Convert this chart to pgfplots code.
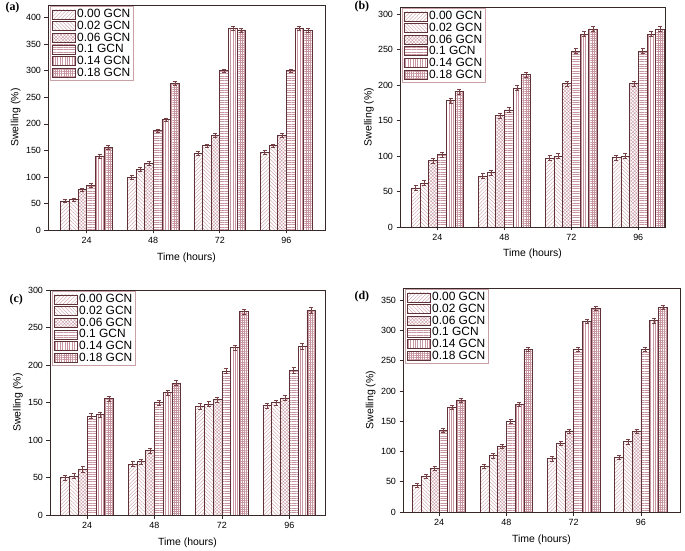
\documentclass[border=0pt]{standalone}
\usepackage{fontspec}
\setmainfont{Liberation Sans}
\newfontfamily\panelfont{Liberation Serif}
\usepackage{pgfplots}
\usepackage{pgfplotstable}
\pgfplotsset{compat=1.18}
\usetikzlibrary{patterns,patterns.meta}

\definecolor{pat}{RGB}{200,150,160}
\definecolor{barline}{RGB}{95,50,55}
\definecolor{axc}{RGB}{55,40,40}
\definecolor{legc}{RGB}{200,160,165}
\definecolor{errc}{RGB}{120,65,70}

\tikzset{
 s0/.style={draw=barline, line width=0.6bp, pattern={Lines[angle=45,distance=2.6bp,line width=0.35bp]}, pattern color=pat},
 s1/.style={draw=barline, line width=0.6bp, pattern={Lines[angle=-45,distance=2.6bp,line width=0.35bp]}, pattern color=pat},
 s2/.style={draw=barline, line width=0.6bp, pattern={Hatch[angle=45,distance=2.4bp,line width=0.35bp]}, pattern color=pat},
 s3/.style={draw=barline, line width=0.6bp, pattern={Lines[angle=0,distance=2.4bp,line width=0.35bp]}, pattern color=pat},
 s4/.style={draw=barline, line width=0.6bp, pattern={Lines[angle=90,distance=2.4bp,line width=0.35bp]}, pattern color=pat},
 s5/.style={draw=barline, line width=0.6bp, pattern={Hatch[angle=0,distance=2.2bp,line width=0.35bp]}, pattern color=pat},
}

\pgfplotsset{
 panel/.style={
  scale only axis,
  ybar,
  bar width=0.13,
  ymin=0,
  xtick={1,2,3,4},
  xticklabels={24,48,72,96},
  tick align=outside,
  xtick pos=left, ytick pos=left,
  major tick length=3.5bp,
  axis line style={draw=axc, line width=0.9bp},
  every tick/.style={draw=axc, line width=0.7bp},
  /pgf/number format/assume math mode=true,
  tick label style={font=\fontsize{9}{10}\selectfont, text=black},
  label style={font=\fontsize{10.5}{12}\selectfont},
  xlabel={Time (hours)},
  ylabel={Swelling (\%)},
  xlabel style={at={(axis description cs:0.5,-0.122)}, anchor=center},
  ylabel style={at={(axis description cs:-0.117,0.5)}, anchor=center},
  error bars/y dir=both,
  error bars/y fixed=3.5,
  error bars/error bar style={draw=errc, line width=0.5bp},
  error bars/error mark options={rotate=90, mark size=2bp, draw=errc, line width=0.5bp},
  legend entries={0.00 GCN,0.02 GCN,0.06 GCN,0.1 GCN,0.14 GCN,0.18 GCN},
  legend cell align=left,
  legend image code/.code={\draw[##1] (0bp,-4.5bp) rectangle (23bp,4.5bp);},
  legend style={at={(axis description cs:0.008,0.995)}, anchor=north west,
   draw=legc, line width=0.7bp, font=\fontsize{12}{13}\selectfont,
   inner sep=1.2bp, row sep=-1.8bp, nodes={inner sep=1.8bp}},
 },
}

\newcommand\plotall[1]{%
 \addplot[s0, bar shift=-0.325] table[x=x,y=s0]{#1};
 \addplot[s1, bar shift=-0.195] table[x=x,y=s1]{#1};
 \addplot[s2, bar shift=-0.065] table[x=x,y=s2]{#1};
 \addplot[s3, bar shift=0.065] table[x=x,y=s3]{#1};
 \addplot[s4, bar shift=0.195] table[x=x,y=s4]{#1};
 \addplot[s5, bar shift=0.325] table[x=x,y=s5]{#1};
}

\pgfplotstableread{
x s0 s1 s2 s3 s4 s5
1 55 57 76 84 139 156
2 99 114 126 187 208 276
3 145 159 179 300 380 377
4 146 159 179 300 380 376
}\dataA
\pgfplotstableread{
x s0 s1 s2 s3 s4 s5
1 55 62 94 102 178 191
2 72 77 157 165 196 215
3 97 100 202 248 272 279
4 98 100 202 248 272 279
}\dataB
\pgfplotstableread{
x s0 s1 s2 s3 s4 s5
1 50 52 61 132 134 155
2 68 71 86 150 163 176
3 145 148 154 192 223 271
4 146 150 156 193 225 273
}\dataC
\pgfplotstableread{
x s0 s1 s2 s3 s4 s5
1 44 59 72 135 173 185
2 75 93 108 150 178 269
3 88 114 134 269 315 337
4 90 116 134 269 316 338
}\dataD

\begin{document}
\begin{tikzpicture}
\useasboundingbox (0bp,0bp) rectangle (685bp,551bp);

\begin{axis}[panel, at={(48bp,321bp)}, anchor=south west, width=277bp, height=225bp,
  xmin=0.42, xmax=4.58, ymax=424, ytick={0,50,...,400}]
\plotall{\dataA}
\end{axis}

\begin{axis}[panel, at={(400bp,324bp)}, anchor=south west, width=265bp, height=220bp,
  xmin=0.44, xmax=4.40, ymax=310, ytick={0,50,...,300}]
\plotall{\dataB}
\end{axis}

\begin{axis}[panel, at={(50bp,36bp)}, anchor=south west, width=275bp, height=225bp,
  xmin=0.45, xmax=4.53, ymax=300, ytick={0,50,...,300}]
\plotall{\dataC}
\end{axis}

\begin{axis}[panel, at={(403bp,39bp)}, anchor=south west, width=277bp, height=224bp,
  xmin=0.465, xmax=4.58, ymax=370, ytick={0,50,...,350}]
\plotall{\dataD}
\end{axis}

\node[anchor=west, font=\panelfont\bfseries\fontsize{12}{14}\selectfont] at (2bp,543bp) {(a)};
\node[anchor=west, font=\panelfont\bfseries\fontsize{12}{14}\selectfont] at (351bp,544bp) {(b)};
\node[anchor=west, font=\panelfont\bfseries\fontsize{12}{14}\selectfont] at (6bp,251bp) {(c)};
\node[anchor=west, font=\panelfont\bfseries\fontsize{12}{14}\selectfont] at (351bp,254bp) {(d)};
\end{tikzpicture}
\end{document}
